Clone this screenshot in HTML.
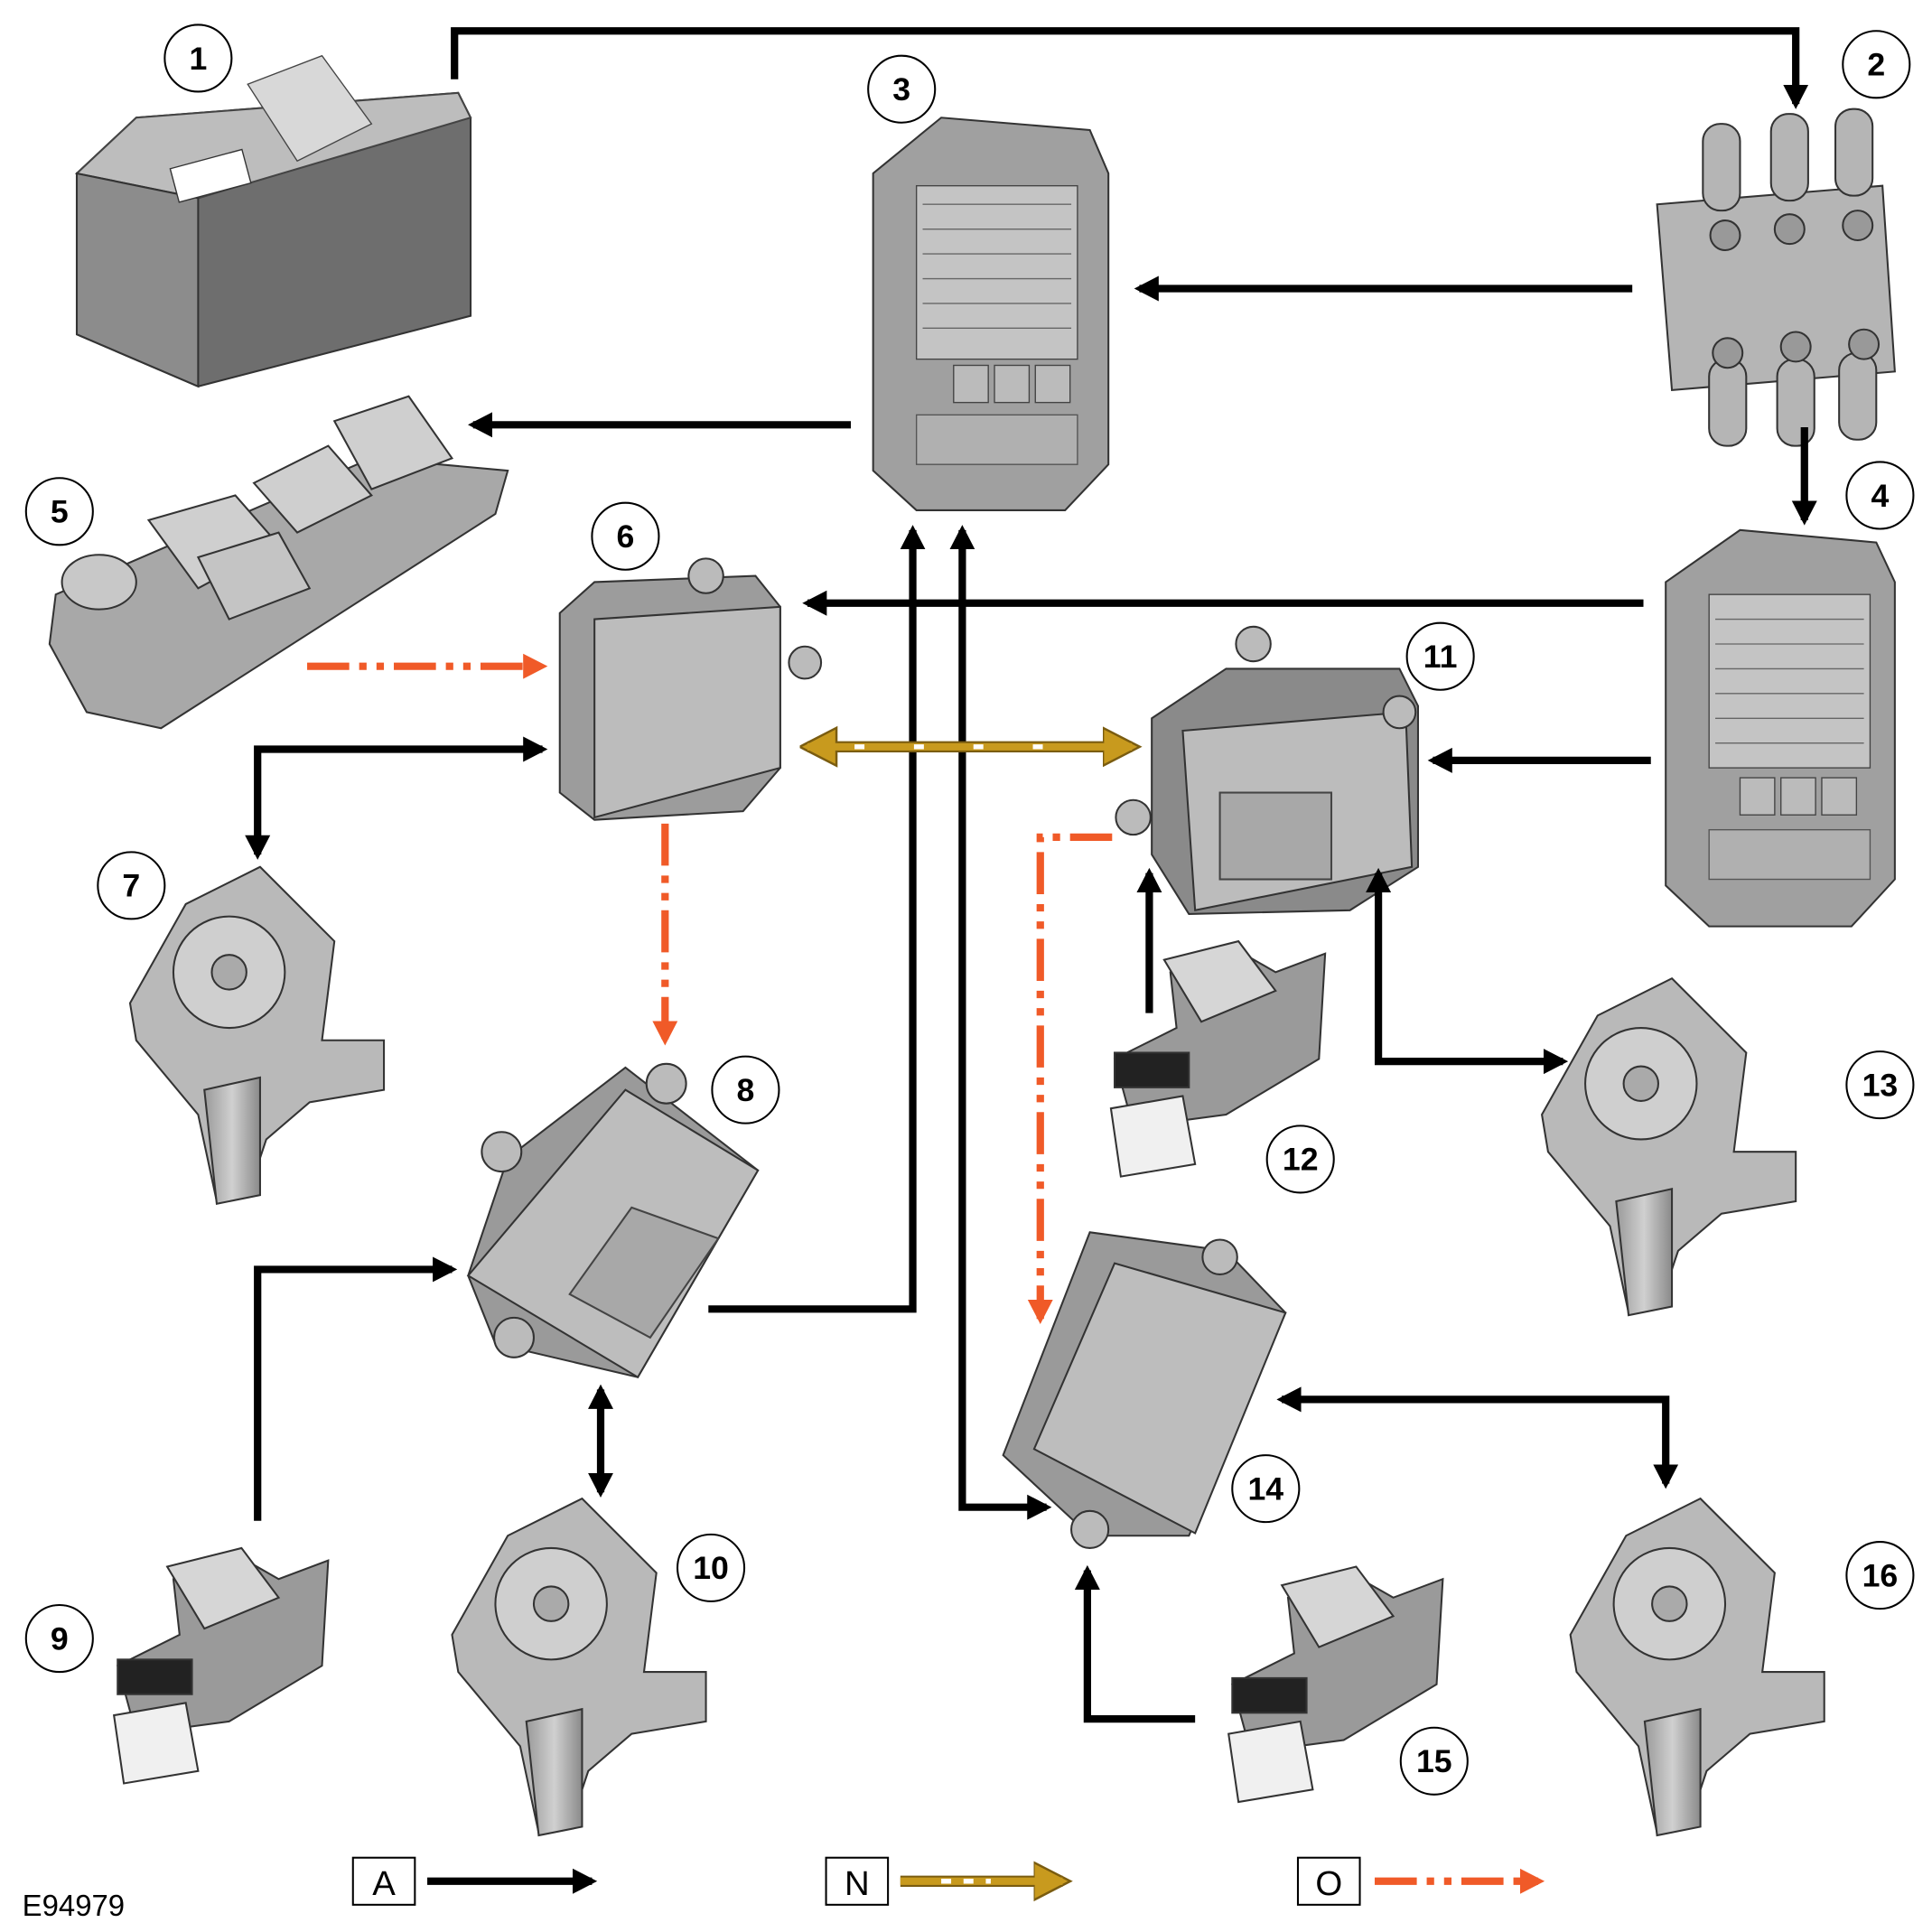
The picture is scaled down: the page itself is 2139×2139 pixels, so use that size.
<!DOCTYPE html>
<html><head><meta charset="utf-8"><style>
html,body{margin:0;padding:0;background:#fff}
svg{display:block}
text{font-family:"Liberation Sans",sans-serif}
</style></head><body>
<svg width="2139" height="2139" viewBox="0 0 1560 1560" xmlns="http://www.w3.org/2000/svg">
<defs>
<marker id="ab" markerWidth="4" markerHeight="4" refX="2.6" refY="2" orient="auto" markerUnits="strokeWidth"><path d="M0,0.3 L3.3,2 L0,3.7 Z" fill="#000"/></marker>
<marker id="abs" markerWidth="4" markerHeight="4" refX="0.7" refY="2" orient="auto" markerUnits="strokeWidth"><path d="M3.3,0.3 L0,2 L3.3,3.7 Z" fill="#000"/></marker>
<marker id="ao" markerWidth="4" markerHeight="4" refX="2.6" refY="2" orient="auto" markerUnits="strokeWidth"><path d="M0,0.3 L3.3,2 L0,3.7 Z" fill="#f05a28"/></marker>
<marker id="ag" markerWidth="4" markerHeight="4" refX="2.6" refY="2" orient="auto" markerUnits="strokeWidth"><path d="M0,0.3 L3.3,2 L0,3.7 Z" fill="#c89a1e" stroke="#7a5c10" stroke-width="0.2"/></marker>
<marker id="ags" markerWidth="4" markerHeight="4" refX="0.7" refY="2" orient="auto" markerUnits="strokeWidth"><path d="M3.3,0.3 L0,2 L3.3,3.7 Z" fill="#c89a1e" stroke="#7a5c10" stroke-width="0.2"/></marker>
<linearGradient id="g1" x1="0" y1="0" x2="1" y2="1"><stop offset="0" stop-color="#c8c8c8"/><stop offset="1" stop-color="#7a7a7a"/></linearGradient>
<linearGradient id="g2" x1="0" y1="0" x2="1" y2="0"><stop offset="0" stop-color="#9a9a9a"/><stop offset="0.5" stop-color="#d0d0d0"/><stop offset="1" stop-color="#8a8a8a"/></linearGradient>
</defs>

<!-- Battery -->
<polygon points="62,140 110,95 370,75 380,95 380,255 160,312 62,270" fill="#6e6e6e" stroke="#333" stroke-width="1.5"/>
<polygon points="62,140 110,95 370,75 380,95 160,160" fill="#bdbdbd" stroke="#444" stroke-width="1.5"/>
<polygon points="62,140 160,160 160,312 62,270" fill="#8c8c8c" stroke="#333" stroke-width="1.5"/>
<rect x="140" y="128" width="60" height="28" fill="#fff" stroke="#333" transform="rotate(-15 170 142)"/>
<polygon points="200,68 260,45 300,100 240,130" fill="#d8d8d8" stroke="#444"/>

<!-- Fuse box 3 -->
<g>
<polygon points="705,140 760,95 880,105 895,140 895,375 860,412 740,412 705,380" fill="#a0a0a0" stroke="#333" stroke-width="1.5"/>
<rect x="740" y="150" width="130" height="140" fill="#c4c4c4" stroke="#444"/>
<g stroke="#666" stroke-width="1">
<line x1="745" y1="165" x2="865" y2="165"/><line x1="745" y1="185" x2="865" y2="185"/><line x1="745" y1="205" x2="865" y2="205"/><line x1="745" y1="225" x2="865" y2="225"/><line x1="745" y1="245" x2="865" y2="245"/><line x1="745" y1="265" x2="865" y2="265"/>
</g>
<rect x="770" y="295" width="28" height="30" fill="#bbb" stroke="#444"/><rect x="803" y="295" width="28" height="30" fill="#bbb" stroke="#444"/><rect x="836" y="295" width="28" height="30" fill="#bbb" stroke="#444"/>
<rect x="740" y="335" width="130" height="40" fill="#b0b0b0" stroke="#555"/>
</g>

<!-- Fuse box 4 -->
<g>
<polygon points="1345,470 1405,428 1515,438 1530,470 1530,710 1495,748 1380,748 1345,715" fill="#a0a0a0" stroke="#333" stroke-width="1.5"/>
<rect x="1380" y="480" width="130" height="140" fill="#c4c4c4" stroke="#444"/>
<g stroke="#666"><line x1="1385" y1="500" x2="1505" y2="500"/><line x1="1385" y1="520" x2="1505" y2="520"/><line x1="1385" y1="540" x2="1505" y2="540"/><line x1="1385" y1="560" x2="1505" y2="560"/><line x1="1385" y1="580" x2="1505" y2="580"/><line x1="1385" y1="600" x2="1505" y2="600"/></g>
<rect x="1405" y="628" width="28" height="30" fill="#bbb" stroke="#444"/><rect x="1438" y="628" width="28" height="30" fill="#bbb" stroke="#444"/><rect x="1471" y="628" width="28" height="30" fill="#bbb" stroke="#444"/>
<rect x="1380" y="670" width="130" height="40" fill="#b0b0b0" stroke="#555"/>
</g>

<!-- Megafuse 2 -->
<g fill="#b5b5b5" stroke="#333" stroke-width="1.5">
<polygon points="1338,165 1520,150 1530,300 1350,315"/>
<rect x="1375" y="100" width="30" height="70" rx="14"/><rect x="1430" y="92" width="30" height="70" rx="14"/><rect x="1482" y="88" width="30" height="70" rx="14"/>
<rect x="1380" y="290" width="30" height="70" rx="14"/><rect x="1435" y="290" width="30" height="70" rx="14"/><rect x="1485" y="285" width="30" height="70" rx="14"/>
<circle cx="1393" cy="190" r="12" fill="#999"/><circle cx="1445" cy="185" r="12" fill="#999"/><circle cx="1500" cy="182" r="12" fill="#999"/>
<circle cx="1395" cy="285" r="12" fill="#999"/><circle cx="1450" cy="280" r="12" fill="#999"/><circle cx="1505" cy="278" r="12" fill="#999"/>
</g>

<!-- Switch pack 5 -->
<g stroke="#333" stroke-width="1.5">
<polygon points="45,480 300,370 410,380 400,415 130,588 70,575 40,520" fill="#a8a8a8"/>
<polygon points="120,420 190,400 225,440 160,475" fill="#cfcfcf"/>
<polygon points="205,390 265,360 300,400 240,430" fill="#cfcfcf"/>
<polygon points="270,340 330,320 365,370 300,395" fill="#cfcfcf"/>
<polygon points="160,450 225,430 250,475 185,500" fill="#c4c4c4"/>
<ellipse cx="80" cy="470" rx="30" ry="22" fill="#c8c8c8"/>
</g>

<!-- Module 6 -->
<g stroke="#333" stroke-width="1.5">
<polygon points="452,495 480,470 610,465 630,490 630,620 600,655 480,662 452,640" fill="#9c9c9c"/>
<polygon points="480,500 630,490 630,620 480,660" fill="#bcbcbc"/>
<circle cx="570" cy="465" r="14" fill="#bbb"/><circle cx="650" cy="535" r="13" fill="#bbb"/>
</g>

<!-- Module 11 -->
<g stroke="#333" stroke-width="1.5">
<polygon points="930,580 990,540 1130,540 1145,570 1145,700 1090,735 960,738 930,690" fill="#8a8a8a"/>
<polygon points="955,590 1135,575 1140,700 965,735" fill="#bcbcbc"/>
<rect x="985" y="640" width="90" height="70" fill="#a8a8a8" stroke="#444"/>
<circle cx="1012" cy="520" r="14" fill="#bbb"/><circle cx="915" cy="660" r="14" fill="#bbb"/><circle cx="1130" cy="575" r="13" fill="#bbb"/>
</g>

<!-- Module 8 -->
<g stroke="#333" stroke-width="1.5">
<polygon points="378,1030 410,935 505,862 612,945 515,1112 400,1085" fill="#9a9a9a"/>
<polygon points="378,1030 505,880 612,945 515,1112" fill="#bdbdbd"/>
<polygon points="460,1045 510,975 580,1000 525,1080" fill="#a8a8a8" stroke="#444"/>
<circle cx="538" cy="875" r="16" fill="#bbb"/><circle cx="405" cy="930" r="16" fill="#bbb"/><circle cx="415" cy="1080" r="16" fill="#bbb"/>
</g>

<!-- Module 14 -->
<g stroke="#333" stroke-width="1.5">
<polygon points="810,1175 880,995 990,1010 1038,1060 960,1240 880,1240" fill="#9a9a9a"/>
<polygon points="835,1170 900,1020 1038,1060 965,1238" fill="#bdbdbd"/>
<circle cx="985" cy="1015" r="14" fill="#bbb"/><circle cx="880" cy="1235" r="15" fill="#bbb"/>
</g>

<!-- Motors -->
<g id="motor" stroke="#333" stroke-width="1.5">
<polygon points="105,810 150,730 210,700 270,760 260,840 310,840 310,880 250,890 215,920 200,965 175,970 160,900 110,840" fill="#b9b9b9"/>
<circle cx="185" cy="785" r="45" fill="#cfcfcf"/>
<circle cx="185" cy="785" r="14" fill="#aaa"/>
<polygon points="165,880 210,870 210,965 175,972" fill="url(#g2)"/>
</g>
<use href="#motor" transform="translate(260,510)"/>
<use href="#motor" transform="translate(1140,90)"/>
<use href="#motor" transform="translate(1163,510)"/>

<!-- Switches -->
<g id="sw" stroke="#333" stroke-width="1.5">
<polygon points="140,1275 190,1255 225,1275 265,1260 260,1345 185,1390 110,1400 95,1345 145,1320" fill="#9a9a9a"/>
<polygon points="135,1265 195,1250 225,1290 165,1315" fill="#d6d6d6"/>
<rect x="95" y="1340" width="60" height="28" fill="#222"/>
<polygon points="92,1385 150,1375 160,1430 100,1440" fill="#f0f0f0"/>
</g>
<use href="#sw" transform="translate(805,-490)"/>
<use href="#sw" transform="translate(900,15)"/>

<!-- Black arrows -->
<g fill="none" stroke="#000" stroke-width="6">
<polyline points="367,64 367,25 1450,25 1450,84" marker-end="url(#ab)"/>
<line x1="1318" y1="233" x2="920" y2="233" marker-end="url(#ab)"/>
<line x1="687" y1="343" x2="382" y2="343" marker-end="url(#ab)"/>
<line x1="1457" y1="345" x2="1457" y2="420" marker-end="url(#ab)"/>
<line x1="1327" y1="487" x2="652" y2="487" marker-end="url(#ab)"/>
<line x1="1333" y1="614" x2="1157" y2="614" marker-end="url(#ab)"/>
<polyline points="572,1057 737,1057 737,428" marker-end="url(#ab)"/>
<polyline points="845,1217 777,1217 777,428" marker-end="url(#ab)" marker-start="url(#abs)"/>
<polyline points="438,605 208,605 208,690" marker-end="url(#ab)" marker-start="url(#abs)"/>
<line x1="928" y1="818" x2="928" y2="705" marker-end="url(#ab)"/>
<polyline points="1113,705 1113,857 1262,857" marker-end="url(#ab)" marker-start="url(#abs)"/>
<polyline points="208,1228 208,1025 365,1025" marker-end="url(#ab)"/>
<line x1="485" y1="1122" x2="485" y2="1205" marker-end="url(#ab)" marker-start="url(#abs)"/>
<polyline points="1035,1130 1345,1130 1345,1198" marker-end="url(#ab)" marker-start="url(#abs)"/>
<polyline points="965,1388 878,1388 878,1268" marker-end="url(#ab)"/>
</g>
<!-- re-draw 777 line start correctly (bottom end has arrow toward 14 only) -->
<!-- Gold -->
<line x1="652" y1="603" x2="914" y2="603" stroke="#7a5c10" stroke-width="9" marker-end="url(#ag)" marker-start="url(#ags)"/>
<line x1="652" y1="603" x2="914" y2="603" stroke="#c89a1e" stroke-width="6"/>
<line x1="690" y1="603" x2="880" y2="603" stroke="#fff" stroke-width="4" stroke-dasharray="8,40"/>
<!-- Orange -->
<g fill="none" stroke="#f05a28" stroke-width="6" stroke-dasharray="34,8,6,8,6,8">
<line x1="248" y1="538" x2="438" y2="538" marker-end="url(#ao)"/>
<line x1="537" y1="665" x2="537" y2="840" marker-end="url(#ao)"/>
<polyline points="898,676 840,676 840,1065" marker-end="url(#ao)"/>
</g>

<!-- Circles -->
<g fill="#fff" stroke="#000" stroke-width="1.5">
<circle cx="160" cy="47" r="27"/><circle cx="1515" cy="52" r="27"/><circle cx="728" cy="72" r="27"/><circle cx="1518" cy="400" r="27"/>
<circle cx="48" cy="413" r="27"/><circle cx="505" cy="433" r="27"/><circle cx="106" cy="715" r="27"/><circle cx="602" cy="880" r="27"/>
<circle cx="48" cy="1323" r="27"/><circle cx="574" cy="1266" r="27"/><circle cx="1163" cy="530" r="27"/><circle cx="1050" cy="936" r="27"/>
<circle cx="1518" cy="876" r="27"/><circle cx="1022" cy="1202" r="27"/><circle cx="1158" cy="1422" r="27"/><circle cx="1518" cy="1272" r="27"/>
</g>
<g font-size="26" font-weight="bold" text-anchor="middle" fill="#000">
<text x="160" y="56">1</text><text x="1515" y="61">2</text><text x="728" y="81">3</text><text x="1518" y="409">4</text>
<text x="48" y="422">5</text><text x="505" y="442">6</text><text x="106" y="724">7</text><text x="602" y="889">8</text>
<text x="48" y="1332">9</text><text x="574" y="1275">10</text><text x="1163" y="539">11</text><text x="1050" y="945">12</text>
<text x="1518" y="885">13</text><text x="1022" y="1211">14</text><text x="1158" y="1431">15</text><text x="1518" y="1281">16</text>
</g>

<!-- Legend -->
<g fill="#fff" stroke="#000" stroke-width="1.5">
<rect x="285" y="1500" width="50" height="38"/><rect x="667" y="1500" width="50" height="38"/><rect x="1048" y="1500" width="50" height="38"/>
</g>
<g font-size="28" text-anchor="middle"><text x="310" y="1530">A</text><text x="692" y="1530">N</text><text x="1073" y="1530">O</text></g>
<line x1="345" y1="1519" x2="478" y2="1519" stroke="#000" stroke-width="6" marker-end="url(#ab)"/>
<line x1="727" y1="1519" x2="858" y2="1519" stroke="#7a5c10" stroke-width="9" marker-end="url(#ag)"/>
<line x1="727" y1="1519" x2="858" y2="1519" stroke="#c89a1e" stroke-width="6"/>
<line x1="760" y1="1519" x2="800" y2="1519" stroke="#fff" stroke-width="4" stroke-dasharray="8,10"/>
<line x1="1110" y1="1519" x2="1243" y2="1519" stroke="#f05a28" stroke-width="6" stroke-dasharray="34,8,6,8,6,8" marker-end="url(#ao)"/>
<text x="18" y="1547" font-size="24">E94979</text>
</svg>
</body></html>
